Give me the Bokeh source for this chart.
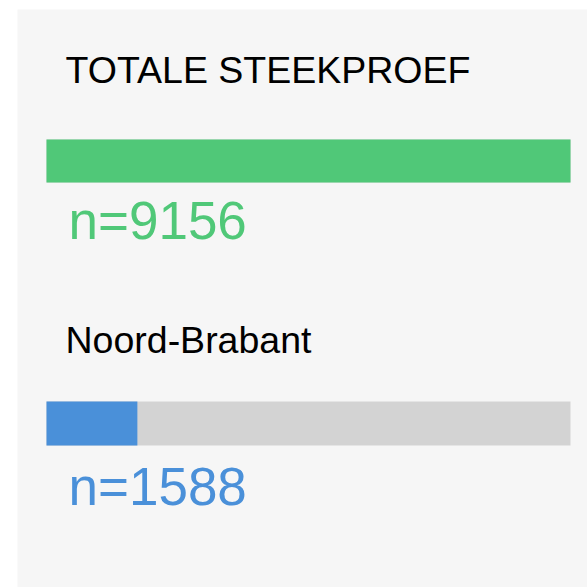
from bokeh.plotting import figure
from bokeh.models import Range1d, ColumnDataSource
from bokeh.core.properties import value
from bokeh.embed import file_html
from bokeh.resources import INLINE

# ---- data ----
labels = ["TOTALE STEEKPROEF", "Noord-Brabant"]
counts = [9156, 1588]
bar_colors = ["#50c878", "#4a90d9"]
track_color = "#d3d3d3"
count_labels = ["n=%d" % c for c in counts]

total = counts[0]
fractions = [c / total for c in counts]

# ---- layout (frame pixel space) ----
W, H = 587, 587
pad_left, pad_top = 17, 9
frame_w, frame_h = W - pad_left, H - pad_top
bar_left_px, bar_len_px = 29, 524          # bar start inside frame, full length
px = 1.0 / bar_len_px
x_start = -bar_left_px * px
x_end = (frame_w - bar_left_px) * px

title_y = [60.0, 330.2]
bar_y = [151.5, 414.0]
bar_h = [43, 44]
count_y = [210.5, 477.0]
title_x = (65 - 17 - bar_left_px) * px
count_x = (68 - 17 - bar_left_px) * px

p = figure(width=W, height=H, output_backend="svg", toolbar_location=None,
           x_range=Range1d(x_start, x_end), y_range=Range1d(frame_h, 0),
           x_axis_location=None, y_axis_location=None,
           min_border_left=pad_left, min_border_top=pad_top,
           min_border_right=0, min_border_bottom=0)
p.background_fill_color = "#f6f6f6"
p.border_fill_color = "white"
p.outline_line_color = None
p.grid.visible = False

src = ColumnDataSource(dict(y=bar_y, h=bar_h, frac=fractions, color=bar_colors,
                            zero=[0, 0], one=[1, 1]))
p.hbar(y="y", height="h", left="zero", right="one", source=src,
       fill_color=track_color, line_color=None)
p.hbar(y="y", height="h", left="zero", right="frac", source=src,
       fill_color="color", line_color=None)

p.text(x=[title_x] * 2, y=title_y, text=labels,
       text_font=value("Liberation Sans"), text_font_size=value("37.5px"),
       text_baseline="alphabetic", text_align="left", text_color="black")

p.text(x=[count_x] * 2, y=count_y, text=count_labels,
       text_font=value("Liberation Sans"), text_font_size=value("53px"),
       text_baseline="alphabetic", text_align="left", text_color=bar_colors)

open("out.html", "w").write(file_html(p, INLINE))
